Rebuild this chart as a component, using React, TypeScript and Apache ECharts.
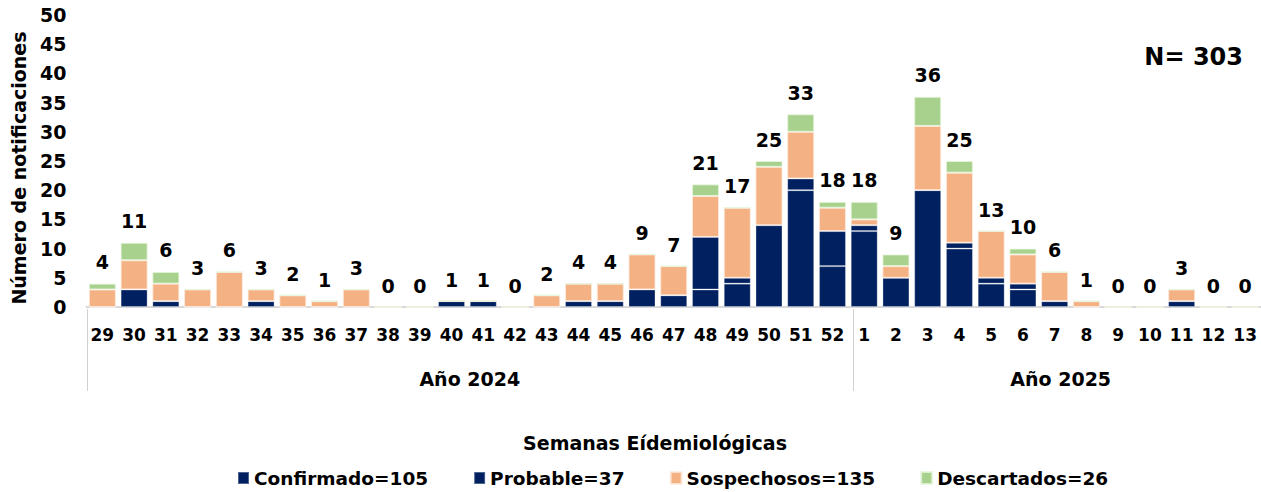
import React, { useEffect, useRef } from "react";
import * as echarts from "echarts";

const weeks = [
  "29", "30", "31", "32", "33", "34", "35", "36", "37", "38", "39", "40", "41", "42",
  "43", "44", "45", "46", "47", "48", "49", "50", "51", "52",
  "1", "2", "3", "4", "5", "6", "7", "8", "9", "10", "11", "12", "13",
];
const confirmado = [0, 3, 1, 0, 0, 1, 0, 0, 0, 0, 0, 1, 1, 0, 0, 1, 1, 3, 2, 3, 4, 0, 20, 7, 13, 5, 20, 10, 4, 3, 1, 0, 0, 0, 1, 0, 0];
const probable = [0, 0, 0, 0, 0, 0, 0, 0, 0, 0, 0, 0, 0, 0, 0, 0, 0, 0, 0, 9, 1, 14, 2, 6, 1, 0, 0, 1, 1, 1, 0, 0, 0, 0, 0, 0, 0];
const sospechosos = [3, 5, 3, 3, 6, 2, 2, 1, 3, 0, 0, 0, 0, 0, 2, 3, 3, 6, 5, 7, 12, 10, 8, 4, 1, 2, 11, 12, 8, 5, 5, 1, 0, 0, 2, 0, 0];
const descartados = [1, 3, 2, 0, 0, 0, 0, 0, 0, 0, 0, 0, 0, 0, 0, 0, 0, 0, 0, 2, 0, 1, 3, 1, 3, 2, 5, 2, 0, 1, 0, 0, 0, 0, 0, 0, 0];
const seriesNames = ["Confirmado=105", "Probable=37", "Sospechosos=135", "Descartados=26"];
const yearLabels = ["Año 2024", "Año 2025"];
const yearCounts = [24, 13];
const totalN = "N= 303";

const FONT = "DejaVu Sans";
const W = 1261;
const H = 492;
const GRID_LEFT = 86.5;
const GRID_RIGHT = -7.3;
const GRID_TOP = 15;
const GRID_BOTTOM = 185;

export default function App() {
  const ref = useRef<HTMLDivElement>(null);
  useEffect(() => {
    if (!ref.current) return;
    const chart = echarts.init(ref.current, null, { renderer: "svg" });
    const totals = weeks.map((_, i) => confirmado[i] + probable[i] + sospechosos[i] + descartados[i]);
    const plotW = W - GRID_LEFT - GRID_RIGHT;
    const cw = plotW / weeks.length;
    const axisY = H - GRID_BOTTOM;

    const graphics: any[] = [];
    let start = 0;
    const sepXs: number[] = [GRID_LEFT];
    yearLabels.forEach((lab, k) => {
      const cx = GRID_LEFT + (start + yearCounts[k] / 2) * cw;
      graphics.push({
        type: "text",
        x: cx,
        y: 379,
        style: { text: lab, fill: "#000", font: `bold 19px '${FONT}'`, textAlign: "center", textVerticalAlign: "middle" },
      });
      start += yearCounts[k];
      sepXs.push(GRID_LEFT + start * cw);
    });
    sepXs.forEach((x) => {
      graphics.push({
        type: "line",
        shape: { x1: Math.round(x) + 0.5, y1: axisY + 2, x2: Math.round(x) + 0.5, y2: 391 },
        style: { stroke: "#d0d0d0", lineWidth: 1 },
      });
    });
    graphics.push({
      type: "text",
      x: 655,
      y: 443,
      style: { text: "Semanas Eídemiológicas", fill: "#000", font: `bold 19px '${FONT}'`, textAlign: "center", textVerticalAlign: "middle" },
    });
    graphics.push({
      type: "text",
      x: 1243,
      y: 57,
      style: { text: totalN, fill: "#000", font: `bold 24px '${FONT}'`, textAlign: "right", textVerticalAlign: "middle" },
    });
    graphics.push({
      type: "text",
      x: 19,
      y: 168,
      rotation: Math.PI / 2,
      style: { text: "Número de notificaciones", fill: "#000", font: `bold 19px '${FONT}'`, textAlign: "center", textVerticalAlign: "middle" },
    });

    const colors = ["#002060", "#002060", "#F4B183", "#A9D18E"];
    const borders = ["rgba(255,255,255,0.3)", "rgba(255,255,255,0.3)", "rgba(255,235,220,0.8)", "rgba(230,245,220,0.8)"];
    const dataSets = [confirmado, probable, sospechosos, descartados];

    const series: any[] = dataSets.map((d, k) => ({
      name: seriesNames[k],
      type: "bar",
      stack: "total",
      data: d,
      barWidth: 27,
      itemStyle: { color: colors[k], borderColor: borders[k], borderWidth: 1 },
    }));
    series.push({
      name: "Total",
      type: "bar",
      data: totals,
      barWidth: 27,
      barGap: "-100%",
      z: 1,
      itemStyle: { color: "rgba(0,0,0,0)" },
      label: {
        show: true,
        position: "top",
        distance: 12,
        color: "#000",
        fontFamily: FONT,
        fontWeight: "bold",
        fontSize: 19,
      },
    });

    chart.setOption({
      animation: false,
      textStyle: { fontFamily: FONT },
      grid: { left: GRID_LEFT, right: GRID_RIGHT, top: GRID_TOP, bottom: GRID_BOTTOM, containLabel: false },
      legend: {
        data: seriesNames,
        left: 237,
        top: 467,
        padding: 0,
        icon: "rect",
        itemWidth: 11,
        itemHeight: 12,
        itemGap: 45,
        textStyle: { color: "#000", fontFamily: FONT, fontWeight: "bold", fontSize: 18.5, lineHeight: 22 },
      },
      xAxis: {
        type: "category",
        data: weeks,
        axisLine: { show: true, lineStyle: { color: "#d9d9d9", width: 2 } },
        axisTick: { show: false },
        axisLabel: {
          interval: 0,
          margin: 19,
          color: "#000",
          fontFamily: FONT,
          fontWeight: "bold",
          fontSize: 17,
        },
      },
      yAxis: {
        type: "value",
        min: 0,
        max: 50,
        interval: 5,
        axisLine: { show: false },
        axisTick: { show: false },
        splitLine: { show: false },
        axisLabel: {
          margin: 20,
          color: "#000",
          fontFamily: FONT,
          fontWeight: "bold",
          fontSize: 19,
        },
      },
      graphic: graphics,
      series,
    });
    return () => chart.dispose();
  }, []);
  return (
    <div
      ref={ref}
      style={{ position: "fixed", left: 0, top: 0, width: W, height: H, background: "#fff" }}
    />
  );
}
